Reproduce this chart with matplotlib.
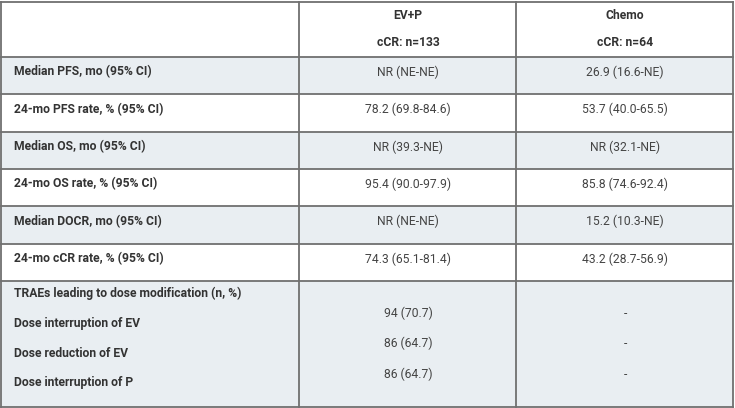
import matplotlib
matplotlib.use("Agg")
import matplotlib.pyplot as plt
from matplotlib.patches import Rectangle

plt.rcParams["font.family"] = ["Roboto", "DejaVu Sans"]

# Dados da tabela
col_headers = ["EV+P", "Chemo"]
col_counts = ["cCR: n=133", "cCR: n=64"]
row_labels = [
    "Median PFS, mo (95% CI)",
    "24-mo PFS rate, % (95% CI)",
    "Median OS, mo (95% CI)",
    "24-mo OS rate, % (95% CI)",
    "Median DOCR, mo (95% CI)",
    "24-mo cCR rate, % (95% CI)",
]
evp_values = ["NR (NE-NE)", "78.2 (69.8-84.6)", "NR (39.3-NE)",
              "95.4 (90.0-97.9)", "NR (NE-NE)", "74.3 (65.1-81.4)"]
chemo_values = ["26.9 (16.6-NE)", "53.7 (40.0-65.5)", "NR (32.1-NE)",
                "85.8 (74.6-92.4)", "15.2 (10.3-NE)", "43.2 (28.7-56.9)"]
trae_title = "TRAEs leading to dose modification (n, %)"
trae_labels = ["Dose interruption of EV", "Dose reduction of EV", "Dose interruption of P"]
trae_evp = ["94 (70.7)", "86 (64.7)", "86 (64.7)"]
trae_chemo = ["-", "-", "-"]

# Layout em pixels
W, H = 735, 408
col_edges = [1, 299.5, 516.5, 733.5]
row_edges = [1.5, 56.5, 94, 131.5, 168.5, 206, 243.5, 281, 406.5]
shade = "#e9eef2"
line_c = "#707070"
lab_c = "#333333"
val_c = "#444444"
fs = 8.7

fig = plt.figure(figsize=(W / 100, H / 100), dpi=100)
ax = fig.add_axes([0, 0, 1, 1])
ax.set_xlim(0, W)
ax.set_ylim(H, 0)
ax.axis("off")

col_mid = [(col_edges[1] + col_edges[2]) / 2, (col_edges[2] + col_edges[3]) / 2]

# fundo das linhas
for i in range(len(row_edges) - 1):
    gray = (i >= 1) and ((i - 1) % 2 == 0)
    if gray:
        ax.add_patch(Rectangle((col_edges[0], row_edges[i]), col_edges[-1] - col_edges[0],
                               row_edges[i + 1] - row_edges[i], facecolor=shade, edgecolor="none"))

# grade
for y in row_edges:
    ax.plot([col_edges[0], col_edges[-1]], [y, y], color=line_c, lw=1.3, solid_capstyle="projecting")
for x in col_edges:
    ax.plot([x, x], [row_edges[0], row_edges[-1]], color=line_c, lw=1.3, solid_capstyle="projecting")

# cabeçalho
for j in range(2):
    ax.text(col_mid[j], 15.5, col_headers[j], ha="center", va="center", fontsize=fs,
            fontweight="bold", color=lab_c)
    ax.text(col_mid[j], 42.5, col_counts[j], ha="center", va="center", fontsize=fs,
            fontweight="bold", color=lab_c)

# linhas de resultados
for i, lab in enumerate(row_labels):
    y = row_edges[i + 1] + 15.5
    ax.text(14, y, lab, ha="left", va="center", fontsize=fs, fontweight="bold", color=lab_c)
    ax.text(col_mid[0], y, evp_values[i], ha="center", va="center", fontsize=fs, color=val_c)
    ax.text(col_mid[1], y, chemo_values[i], ha="center", va="center", fontsize=fs, color=val_c)

# bloco de TRAEs
y0 = row_edges[7]
ax.text(14, y0 + 12.5, trae_title, ha="left", va="center", fontsize=fs, fontweight="bold", color=lab_c)
for k, lab in enumerate(trae_labels):
    ax.text(14, y0 + 42.5 + 29.7 * k, lab, ha="left", va="center", fontsize=fs,
            fontweight="bold", color=lab_c)
    ax.text(col_mid[0], y0 + 32.5 + 30.3 * k, trae_evp[k], ha="center", va="center",
            fontsize=fs, color=val_c)
    ax.text(col_mid[1], y0 + 32.5 + 30.3 * k, trae_chemo[k], ha="center", va="center",
            fontsize=fs, color=val_c)

fig.savefig("out.png", dpi=100, facecolor="white")
